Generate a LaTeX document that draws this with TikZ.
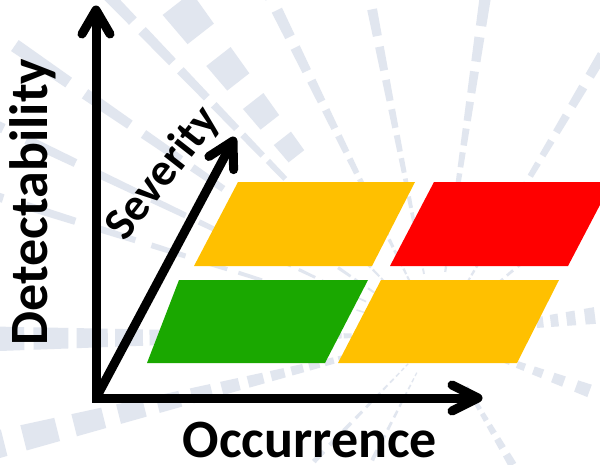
\documentclass[tikz,border=0pt]{standalone}
\usepackage{fontspec}
\setmainfont{Carlito}
\usetikzlibrary{calc}

\definecolor{raygray}{RGB}{225,230,239}
\definecolor{riskamber}{RGB}{255,192,0}
\definecolor{riskred}{RGB}{255,0,0}
\definecolor{riskgreen}{RGB}{26,168,0}

% One dashed ray of the background burst, drawn as wedge pieces whose
% length and width grow with the distance from the centre.
% #1 direction (deg), #2 half width (deg), #3 first radius, #4 last radius,
% #5 step ratio, #6 dash fraction of a step, #7 phase
\newcommand\burstray[7]{%
  \pgfmathsetmacro\raylo{-(#1)-(#2)}%
  \pgfmathsetmacro\rayhi{-(#1)+(#2)}%
  \pgfmathsetmacro\rayn{int(ceil(ln((#4)/(#3))/ln(#5)))}%
  \foreach \k in {0,...,\rayn}{%
    \pgfmathsetmacro\ra{(#3)*(#5)^(\k+(#7))}%
    \pgfmathsetmacro\rb{\ra*(#5)^(#6)}%
    \fill[raygray] (\raylo:\ra) -- (\raylo:\rb) -- (\rayhi:\rb) -- (\rayhi:\ra) -- cycle;
  }%
}

\tikzset{
  axis/.style={line width=9pt, draw=black},
  barb/.style={line width=9pt, draw=black, line cap=round, line join=round},
  axislabel/.style={inner sep=0pt, font=\bfseries\fontsize{54}{60}\selectfont},
  sevlabel/.style={inner sep=0pt, font=\bfseries\fontsize{46}{52}\selectfont},
}

\begin{document}
\begin{tikzpicture}[x=1pt, y=-1pt]
  \useasboundingbox (0,0) rectangle (600,464);
  \clip (0,0) rectangle (600,464);
  \fill[white] (0,0) rectangle (600,464);

  % background burst
  \begin{scope}[shift={(436,335)}]
    \burstray{116.1}{0.9}{60}{420}{1.13}{0.7}{0}
    \burstray{101.1}{0.85}{60}{380}{1.13}{0.7}{0.3}
    \burstray{81.7}{0.95}{60}{380}{1.13}{0.7}{0.5}
    \burstray{59.3}{0.9}{60}{380}{1.13}{0.65}{0.2}
    \burstray{128}{2.5}{227}{470}{1.19}{0.55}{0}
    \burstray{134}{0.7}{60}{520}{1.15}{0.78}{0.2}
    \burstray{145.5}{0.75}{60}{560}{1.2}{0.75}{0}
    \burstray{154.5}{0.6}{60}{520}{1.2}{0.7}{0.4}
    \burstray{162.5}{0.55}{60}{480}{1.2}{0.7}{0.1}
    \burstray{180.5}{1.6}{60}{470}{1.12}{0.8}{0}
    \burstray{194}{1.75}{60}{460}{1.14}{0.65}{0.3}
    \burstray{226}{0.8}{40}{200}{1.15}{0.6}{0}
    \burstray{243}{0.8}{40}{200}{1.15}{0.6}{0.4}
    \burstray{-59.5}{1.6}{60}{170}{1.15}{0.6}{0}
    \burstray{-20}{2.3}{60}{210}{1.2}{0.5}{0}
    \burstray{7}{3}{60}{210}{1.14}{0.5}{0}
    \burstray{40}{0.8}{40}{260}{1.15}{0.6}{0}
  \end{scope}

  % risk cells
  \fill[riskamber] (238,182) -- (415,182) -- (372,266) -- (194,266) -- cycle;
  \fill[riskred]   (434,182) -- (612,182) -- (568,266) -- (390,266) -- cycle;
  \fill[riskgreen] (179,280) -- (368,280) -- (325,363) -- (147,363) -- cycle;
  \fill[riskamber] (381,280) -- (559,280) -- (517,363) -- (338,363) -- cycle;

  % axes
  \coordinate (O) at (96,398);
  \coordinate (Ytip) at (96,10);
  \coordinate (Xtip) at (478,398);
  \coordinate (Stip) at (233,141);
  \draw[axis, line join=miter] (Ytip) -- (O) -- (Xtip);
  \draw[axis] (O) -- (Stip);
  \draw[barb] ($(Ytip)!24pt!(O)!14pt!90:(Ytip)$) -- (Ytip) -- ($(Ytip)!24pt!(O)!14pt!-90:(Ytip)$);
  \draw[barb] ($(Xtip)!26pt!(O)!13pt!90:(Xtip)$) -- (Xtip) -- ($(Xtip)!26pt!(O)!13pt!-90:(Xtip)$);
  \draw[barb] ($(Stip)!25pt!(O)!14pt!90:(Stip)$) -- (Stip) -- ($(Stip)!25pt!(O)!14pt!-90:(Stip)$);

  % axis labels
  \node[axislabel, rotate=90, anchor=base] (det) at (47,202) {Detectability};
  \node[axislabel, anchor=base] (occ) at (310,457) {Occurrence};
  \node[sevlabel, rotate=52] (sev) at (163,174) {Severity};
\end{tikzpicture}
\end{document}
